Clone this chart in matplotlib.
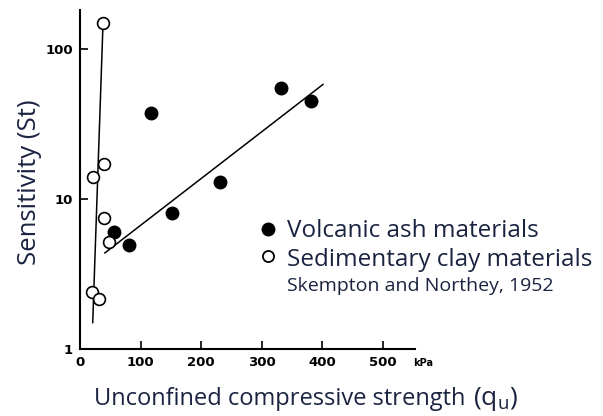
import matplotlib.pyplot as plt
from matplotlib.lines import Line2D

# sensitivity vs unconfined strength (Skempton & Northey, 1952)
volcanic_qu = [56, 81, 117, 152, 231, 332, 381]
volcanic_st = [6.0, 4.9, 37.4, 8.1, 13.0, 55, 45]

clay_qu = [38, 40, 21, 40, 48, 20, 31]
clay_st = [149, 17.1, 14.0, 7.5, 5.2, 2.4, 2.15]

# hand-drawn trend lines (end points)
volcanic_fit_qu = [41, 401]
volcanic_fit_st = [4.37, 58]
clay_fit_qu = [21, 38]
clay_fit_st = [1.5, 149]

xticks = [0, 100, 200, 300, 400, 500]
yticks = [1, 10, 100]

text_col = '#1a2340'
sans = ['Open Sans', 'DejaVu Sans']

fig = plt.figure(figsize=(6.03, 4.16), dpi=100)
ax = fig.add_axes([80 / 603, 1 - 349 / 416, 335 / 603, 339 / 416])

ax.plot(volcanic_fit_qu, volcanic_fit_st, color='black', lw=1.1, zorder=2)
ax.plot(clay_fit_qu, clay_fit_st, color='black', lw=1.1, zorder=2)
ax.plot(volcanic_qu, volcanic_st, 'o', ms=9, mfc='black', mec='black', zorder=3)
ax.plot(clay_qu, clay_st, 'o', ms=8.5, mfc='white', mec='black', mew=1.2, zorder=3)

ax.set_yscale('log')
ax.set_xlim(0, 553)
ax.set_ylim(1, 182)
ax.set_xticks(xticks)
ax.set_xticklabels([str(t) for t in xticks])
ax.set_yticks(yticks)
ax.set_yticklabels([str(t) for t in yticks])
ax.minorticks_off()
ax.tick_params(direction='in', length=6, width=1.2, labelsize=9.5, pad=5)
for lab in ax.get_xticklabels() + ax.get_yticklabels():
    lab.set_fontweight('bold')
for side in ('top', 'right'):
    ax.spines[side].set_visible(False)
for side in ('left', 'bottom'):
    ax.spines[side].set_linewidth(1.5)

fig.text(413 / 603, 1 - 363 / 416, 'kPa', fontsize=7, fontweight='bold', va='center')

# axis titles
fig.text(29 / 603, 1 - 182 / 416, 'Sensitivity (St)', rotation=90, fontsize=18.5,
         family=sans, color=text_col, ha='center', va='center')
fig.text(465 / 603, 1 - 405 / 416, 'Unconfined compressive strength', fontsize=17,
         family=sans, color=text_col, ha='right', va='baseline')
fig.text(473 / 603, 1 - 405 / 416, r'($\mathregular{q_u}$)', fontsize=19,
         family=sans, color=text_col, ha='left', va='baseline')

# legend
fig.add_artist(Line2D([268 / 603], [1 - 229 / 416], marker='o', ms=9,
                      mfc='black', mec='black', transform=fig.transFigure))
fig.add_artist(Line2D([268 / 603], [1 - 256 / 416], marker='o', ms=8,
                      mfc='white', mec='black', mew=1.3, transform=fig.transFigure))
fig.text(287 / 603, 1 - 237 / 416, 'Volcanic ash materials', fontsize=17.5,
         family=sans, color=text_col, va='baseline')
fig.text(287 / 603, 1 - 266 / 416, 'Sedimentary clay materials', fontsize=17.5,
         family=sans, color=text_col, va='baseline')
fig.text(287 / 603, 1 - 291 / 416, 'Skempton and Northey, 1952', fontsize=14,
         family=sans, color=text_col, va='baseline')

fig.savefig('out.png', dpi=100)
